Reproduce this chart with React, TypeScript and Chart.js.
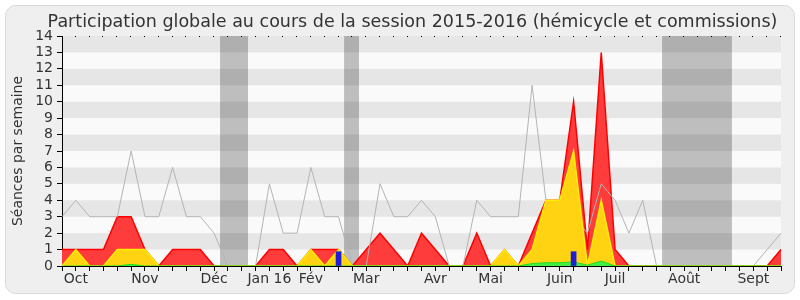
import React, { useEffect, useRef } from "react";
import { Chart, registerables } from "chart.js";

Chart.register(...registerables);

const titleText = "Participation globale au cours de la session 2015-2016 (hémicycle et commissions)";
const yAxisTitle = "Séances par semaine";

const weekCount = 53;
const monthLabels = ["Oct", "Nov", "Déc", "Jan 16", "Fév", "Mar", "Avr", "Mai", "Juin", "Juil", "Août", "Sept"];
const monthWeekIndex = [1, 6, 11, 15, 18, 22, 27, 31, 36, 40, 45, 50];

// red area: présences
const presences = [
  1, 1, 1, 1, 3, 3, 1, 0, 1, 1, 1, 0, 0, 0, 0, 1, 1, 0, 1, 1,
  1, 0, 1, 2, 1, 0, 2, 1, 0, 0, 2, 0, 1, 0, 2, 4, 4, 10, 1, 13,
  1, 0, 0, 0, 0, 0, 0, 0, 0, 0, 0, 0, 1,
];
// yellow area: participations
const participations = [
  0, 1, 0, 0, 1, 1, 1, 0, 0, 0, 0, 0, 0, 0, 0, 0, 0, 0, 1, 0,
  1, 0, 0, 0, 0, 0, 0, 0, 0, 0, 0, 0, 1, 0, 1, 4, 4, 7, 0, 4,
  0, 0, 0, 0, 0, 0, 0, 0, 0, 0, 0, 0, 0,
];
// green area: interventions
const interventions = [
  0, 0, 0, 0, 0, 0.1, 0, 0, 0, 0, 0, 0, 0, 0, 0, 0, 0, 0, 0, 0,
  0, 0, 0, 0, 0, 0, 0, 0, 0, 0, 0, 0, 0, 0, 0.15, 0.2, 0.2, 0.25, 0.05, 0.3,
  0, 0, 0, 0, 0, 0, 0, 0, 0, 0, 0, 0, 0,
];
// blue bars: questions
const questions: (number | null)[] = [
  null, null, null, null, null, null, null, null, null, null, null, null, null, null, null, null, null, null, null, null,
  0.87, null, null, null, null, null, null, null, null, null, null, null, null, null, null, null, null, 0.87, null, null,
  null, null, null, null, null, null, null, null, null, null, null, null, null,
];
// grey line: séances totales
const seances = [
  3, 4, 3, 3, 3, 7, 3, 3, 6, 3, 3, 2, 0, 0, 0, 5, 2, 2, 6, 3,
  3, 0, 0, 5, 3, 3, 4, 3, 0, 0, 4, 3, 3, 3, 11, 4, 4, 3, 2, 5,
  4, 2, 4, 0, 0, 0, 0, 0, 0, 0, 0, 1, 2,
];
// vacation periods, in week-index units
const vacances: [number, number][] = [
  [11.43, 13.45],
  [20.4, 21.48],
  [43.4, 48.45],
];

const labels = Array.from({ length: weekCount }, (_, i) => {
  const k = monthWeekIndex.indexOf(i);
  return k >= 0 ? monthLabels[k] : "";
});

const FONT = "DejaVu Sans";

const bgPlugin = {
  id: "bgPlugin",
  beforeDraw(chart: any) {
    const { ctx, chartArea: a, scales } = chart;
    const x = scales.x;
    const y = scales.y;
    ctx.save();
    ctx.fillStyle = "#ffffff";
    ctx.fillRect(0, 0, chart.width, chart.height);
    ctx.beginPath();
    ctx.roundRect(5.5, 5.5, 789, 288, 10);
    ctx.fillStyle = "#efefef";
    ctx.fill();
    ctx.strokeStyle = "#dadada";
    ctx.lineWidth = 1;
    ctx.stroke();

    ctx.fillStyle = "#fafafa";
    ctx.fillRect(a.left, a.top, a.right - a.left, a.bottom - a.top);
    ctx.fillStyle = "#bebebe";
    vacances.forEach(([s, e]) => {
      const x0 = x.getPixelForValue(s);
      const x1 = x.getPixelForValue(e);
      ctx.fillRect(x0, a.top, x1 - x0, a.bottom - a.top);
    });
    ctx.fillStyle = "rgba(0,0,0,0.08)";
    for (let v = 1; v < 14; v += 2) {
      const y0 = y.getPixelForValue(v + 1);
      const y1 = y.getPixelForValue(v);
      ctx.fillRect(a.left, y0, a.right - a.left, y1 - y0);
    }

    ctx.fillStyle = "#333";
    ctx.font = `17.5px "${FONT}"`;
    ctx.textAlign = "center";
    ctx.textBaseline = "alphabetic";
    ctx.fillText(titleText, 412.5, 27);

    ctx.fillStyle = "#000";
    for (let i = 0; i < weekCount; i++) {
      const px = Math.round(x.getPixelForValue(i));
      ctx.fillRect(px - 1, a.top, 1, 1);
    }
    ctx.restore();
  },
};

export default function App() {
  const ref = useRef<HTMLCanvasElement | null>(null);
  useEffect(() => {
    document.body.style.margin = "0";
    if (!ref.current) return;
    Chart.defaults.font.family = FONT;
    const font = { family: FONT, size: 14, lineHeight: 1 };
    const chart = new Chart(ref.current, {
      type: "line",
      data: {
        labels,
        datasets: [
          {
            type: "bar",
            label: "Questions",
            data: questions,
            backgroundColor: "#1e1ed8",
            barThickness: 5,
            order: 0,
          } as any,
          {
            label: "Interventions",
            data: interventions,
            borderColor: "#22dd22",
            backgroundColor: "#44ee44",
            fill: "origin",
            borderWidth: 1,
            pointRadius: 0,
            tension: 0,
            order: 1,
          },
          {
            label: "Participations",
            data: participations,
            borderColor: "#ffee00",
            backgroundColor: "#ffd311",
            fill: "origin",
            borderWidth: 1.5,
            pointRadius: 0,
            tension: 0,
            order: 2,
          },
          {
            label: "Séances",
            data: seances,
            borderColor: "#b4b4b4",
            borderWidth: 1,
            fill: false,
            pointRadius: 0,
            tension: 0,
            order: 3,
          },
          {
            label: "Présences",
            data: presences,
            borderColor: "#ff0000",
            backgroundColor: "#ff3c3c",
            fill: "origin",
            borderWidth: 1.5,
            pointRadius: 0,
            tension: 0,
            order: 4,
          },
        ],
      },
      options: {
        responsive: false,
        animation: false,
        layout: { padding: { left: 8, right: 19, top: 36, bottom: 0 } },
        plugins: {
          legend: { display: false },
          tooltip: { enabled: false },
          title: { display: false },
        },
        scales: {
          x: {
            type: "category",
            offset: false,
            grid: { display: true, drawOnChartArea: false, drawTicks: true, tickLength: 5, color: "#000", offset: false },
            border: { display: true, color: "#000" },
            ticks: { autoSkip: false, maxRotation: 0, minRotation: 0, font, color: "#333", padding: 1 },
            afterFit: (s: any) => {
              s.height = 34;
            },
          },
          y: {
            min: 0,
            max: 14,
            ticks: { stepSize: 1, autoSkip: false, font, color: "#333", padding: 4 },
            grid: { drawOnChartArea: false, tickLength: 5, color: "#000" },
            border: { display: true, color: "#000" },
            title: {
              display: true,
              text: yAxisTitle,
              font: { family: FONT, size: 14 },
              color: "#333",
              padding: { top: 2, bottom: 0 },
            },
            afterFit: (s: any) => {
              s.width = 54;
            },
          },
        },
      } as any,
      plugins: [bgPlugin],
    });
    return () => chart.destroy();
  }, []);
  return (
    <div style={{ width: 800, height: 300 }}>
      <canvas ref={ref} width={800} height={300} style={{ display: "block" }} />
    </div>
  );
}
